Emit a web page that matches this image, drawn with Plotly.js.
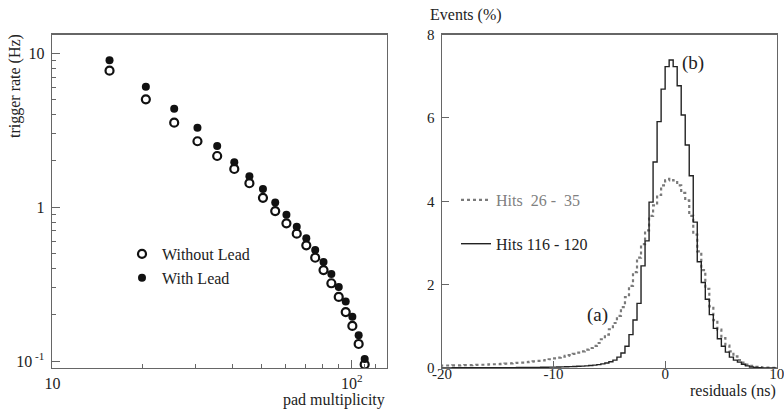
<!DOCTYPE html>
<html>
<head>
<meta charset="utf-8">
<script src="https://cdn.plot.ly/plotly-3.0.1.min.js"></script>
<style>
  html, body { margin: 0; padding: 0; background: #fff; }
  #chart { width: 784px; height: 412px; }
</style>
</head>
<body>
<div id="chart"></div>
<script>
// ---- Left panel: trigger rate vs pad multiplicity ----
const padMultiplicity = [15.5, 20.5, 25.5, 30.5, 35.5, 40.5, 45.5, 50.5, 55.5, 60.5,
                         65.5, 70.5, 75.5, 80.5, 85.5, 90.5, 95.5, 100.5, 105.5, 110.5];
const rateWithoutLead = [7.71, 5.02, 3.54, 2.68, 2.15, 1.77, 1.43, 1.15, 0.943, 0.785,
                         0.672, 0.565, 0.469, 0.390, 0.320, 0.261, 0.208, 0.169, 0.129, 0.095];
const rateWithLead    = [9.0, 6.06, 4.36, 3.28, 2.50, 1.96, 1.59, 1.31, 1.07, 0.893,
                         0.746, 0.627, 0.526, 0.440, 0.367, 0.303, 0.244, 0.194, 0.147, 0.103];
const leftXTickVals = [10, 100];
const leftXTickText = ['10', '10<sup>2</sup>'];
const leftYTickVals = [0.1, 1, 10];
const leftYTickText = ['10<sup> -1</sup>', '1', '10'];

// ---- Right panel: residual histograms (bin width 0.36 ns, first bin edge -20.16 ns) ----
const binStart = -20.16;
const binWidth = 0.36;
const hits26to35 = [
  0.058, 0.06, 0.06, 0.062, 0.064, 0.066, 0.068, 0.07, 0.072, 0.075,
  0.078, 0.08, 0.085, 0.09, 0.095, 0.10, 0.105, 0.11, 0.12, 0.125,
  0.13, 0.14, 0.15, 0.16, 0.17, 0.18, 0.19, 0.21, 0.23, 0.25,
  0.27, 0.29, 0.31, 0.34, 0.37, 0.40, 0.44, 0.48, 0.53, 0.60,
  0.69, 0.80, 0.93, 1.08, 1.25, 1.46, 1.70, 1.97, 2.30, 2.65,
  2.97, 3.30, 3.65, 3.90, 4.15, 4.38, 4.50, 4.54, 4.50, 4.38,
  4.20, 4.02, 3.65, 3.20, 2.80, 2.35, 1.90, 1.48, 1.15, 0.92,
  0.72, 0.54, 0.40, 0.28, 0.19, 0.13, 0.08, 0.05, 0.03, 0.02,
  0.012, 0.008, 0.005, 0.003
];
const hits116to120 = [
  0.004, 0.004, 0.004, 0.005, 0.005, 0.005, 0.005, 0.006, 0.006, 0.006,
  0.007, 0.007, 0.007, 0.008, 0.008, 0.009, 0.009, 0.010, 0.010, 0.011,
  0.012, 0.013, 0.014, 0.015, 0.016, 0.017, 0.018, 0.020, 0.022, 0.024,
  0.027, 0.030, 0.033, 0.037, 0.041, 0.046, 0.052, 0.060, 0.070, 0.082,
  0.098, 0.12, 0.15, 0.19, 0.26, 0.36, 0.52, 0.80, 1.15, 1.55,
  2.45, 3.05, 3.98, 4.94, 5.91, 6.69, 7.23, 7.39, 7.23, 6.77,
  6.07, 5.35, 4.61, 3.50, 2.55, 2.05, 1.65, 1.28, 0.95, 0.70,
  0.52, 0.38, 0.26, 0.19, 0.14, 0.09, 0.05, 0.025, 0.012, 0.006,
  0.003, 0.002, 0.001, 0.001
];
const rightXTickVals = [-20, -10, 0, 10];
const rightXTickText = ['-20', '-10', '0', '10'];
const rightYTickVals = [0, 2, 4, 6, 8];

function stepXY(vals) {
  const xs = [], ys = [];
  for (let i = 0; i < vals.length; i++) { xs.push(binStart + i * binWidth); ys.push(vals[i]); }
  xs.push(binStart + vals.length * binWidth); ys.push(vals[vals.length - 1]);
  return {xs, ys};
}
const sA = stepXY(hits26to35);
const sB = stepXY(hits116to120);

const FONT = '"Liberation Serif", "Times New Roman", Times, serif';
const TXT = '#222';
const FRAME = '#666';

const traces = [
  {x: padMultiplicity, y: rateWithoutLead, type: 'scatter', mode: 'markers', name: 'Without Lead',
   xaxis: 'x', yaxis: 'y', legend: 'legend',
   marker: {symbol: 'circle-open', size: 8, color: '#111', line: {width: 2.2, color: '#111'}}},
  {x: padMultiplicity, y: rateWithLead, type: 'scatter', mode: 'markers', name: 'With Lead',
   xaxis: 'x', yaxis: 'y', legend: 'legend',
   marker: {symbol: 'circle', size: 8, color: '#111'}},
  {x: sA.xs, y: sA.ys, type: 'scatter', mode: 'lines', name: '<span style="color:#808080">Hits  26 -  35</span>',
   xaxis: 'x2', yaxis: 'y2', legend: 'legend2', legendgroup: 'a',
   line: {shape: 'hv', color: '#7a7a7a', width: 2.2, dash: 'dot'}},
  {x: sB.xs, y: sB.ys, type: 'scatter', mode: 'lines', name: 'Hits 116 - 120',
   xaxis: 'x2', yaxis: 'y2', legend: 'legend2', legendgroup: 'b',
   line: {shape: 'hv', color: '#222', width: 1.4}}
];

const axisCommon = {
  showline: true, mirror: true, linecolor: FRAME, linewidth: 1.4,
  showgrid: false, zeroline: false, ticks: 'inside', tickcolor: FRAME,
  ticklabeloverflow: 'allow',
  tickfont: {family: FONT, size: 16, color: TXT}
};

const layout = {
  width: 784, height: 412,
  margin: {l: 0, r: 0, t: 0, b: 0},
  paper_bgcolor: '#fff', plot_bgcolor: '#fff',
  font: {family: FONT, color: TXT},
  showlegend: true,
  xaxis: Object.assign({}, axisCommon, {
    type: 'log', range: [0.998, 2.118], domain: [52/784, 387/784], anchor: 'y',
    tickmode: 'array', tickvals: leftXTickVals, ticktext: leftXTickText, ticklen: 8,
    minor: {tickmode: 'array', tickvals: [20, 30, 40, 50, 60, 70, 80, 90, 110, 120],
            ticks: 'inside', ticklen: 4, tickcolor: FRAME}
  }),
  yaxis: Object.assign({}, axisCommon, {
    type: 'log', range: [-1.0455, 1.122], domain: [1 - 368/412, 1 - 34.5/412], anchor: 'x',
    tickmode: 'array', tickvals: leftYTickVals, ticktext: leftYTickText, ticklen: 8,
    ticklabelstandoff: 3,
    minor: {tickmode: 'array', tickvals: [0.2, 0.3, 0.4, 0.5, 0.6, 0.7, 0.8, 0.9, 2, 3, 4, 5, 6, 7, 8, 9],
            ticks: 'inside', ticklen: 4, tickcolor: FRAME}
  }),
  xaxis2: Object.assign({}, axisCommon, {
    range: [-20, 10], domain: [442/784, 776.7/784], anchor: 'y2',
    tickmode: 'array', tickvals: rightXTickVals, ticktext: rightXTickText, ticklen: 7,
    ticklabelstandoff: -8,
    tickfont: {family: FONT, size: 15, color: TXT}
  }),
  yaxis2: Object.assign({}, axisCommon, {
    range: [0, 8], domain: [1 - 368/412, 1 - 34.5/412], anchor: 'x2',
    tickmode: 'array', tickvals: rightYTickVals, ticklen: 7,
    ticklabelstandoff: 3,
    tickfont: {family: FONT, size: 15, color: TXT}
  }),
  legend: {
    x: 122/784, y: 1 - 237/412, xanchor: 'left', yanchor: 'top',
    bgcolor: 'rgba(0,0,0,0)', font: {family: FONT, size: 16, color: TXT},
    itemwidth: 30
  },
  legend2: {
    x: 456/784, y: 1 - 183/412, xanchor: 'left', yanchor: 'top',
    bgcolor: 'rgba(0,0,0,0)', font: {family: FONT, size: 16, color: TXT},
    itemwidth: 30, traceorder: 'grouped', tracegroupgap: 20
  },
  annotations: [
    {text: 'trigger rate (Hz)', xref: 'paper', yref: 'paper', x: 15/784, y: 1 - 86/412,
     textangle: -90, showarrow: false, xanchor: 'center', yanchor: 'middle',
     font: {family: FONT, size: 16, color: TXT}},
    {text: 'pad multiplicity', xref: 'paper', yref: 'paper', x: 387/784, y: 1 - 400/412,
     showarrow: false, xanchor: 'right', yanchor: 'middle',
     font: {family: FONT, size: 16, color: TXT}},
    {text: 'Events (%)', xref: 'paper', yref: 'paper', x: 428/784, y: 1 - 15/412,
     showarrow: false, xanchor: 'left', yanchor: 'middle',
     font: {family: FONT, size: 16, color: TXT}},
    {text: 'residuals (ns)', xref: 'paper', yref: 'paper', x: 778/784, y: 1 - 391/412,
     showarrow: false, xanchor: 'right', yanchor: 'middle',
     font: {family: FONT, size: 16, color: TXT}},
    {text: '(a)', xref: 'x2', yref: 'y2', x: -6.06, y: 1.26, showarrow: false,
     font: {family: FONT, size: 19, color: TXT}},
    {text: '(b)', xref: 'x2', yref: 'y2', x: 2.5, y: 7.32, showarrow: false,
     font: {family: FONT, size: 19, color: TXT}}
  ]
};

Plotly.newPlot('chart', traces, layout, {staticPlot: true, displayModeBar: false});
</script>
</body>
</html>
